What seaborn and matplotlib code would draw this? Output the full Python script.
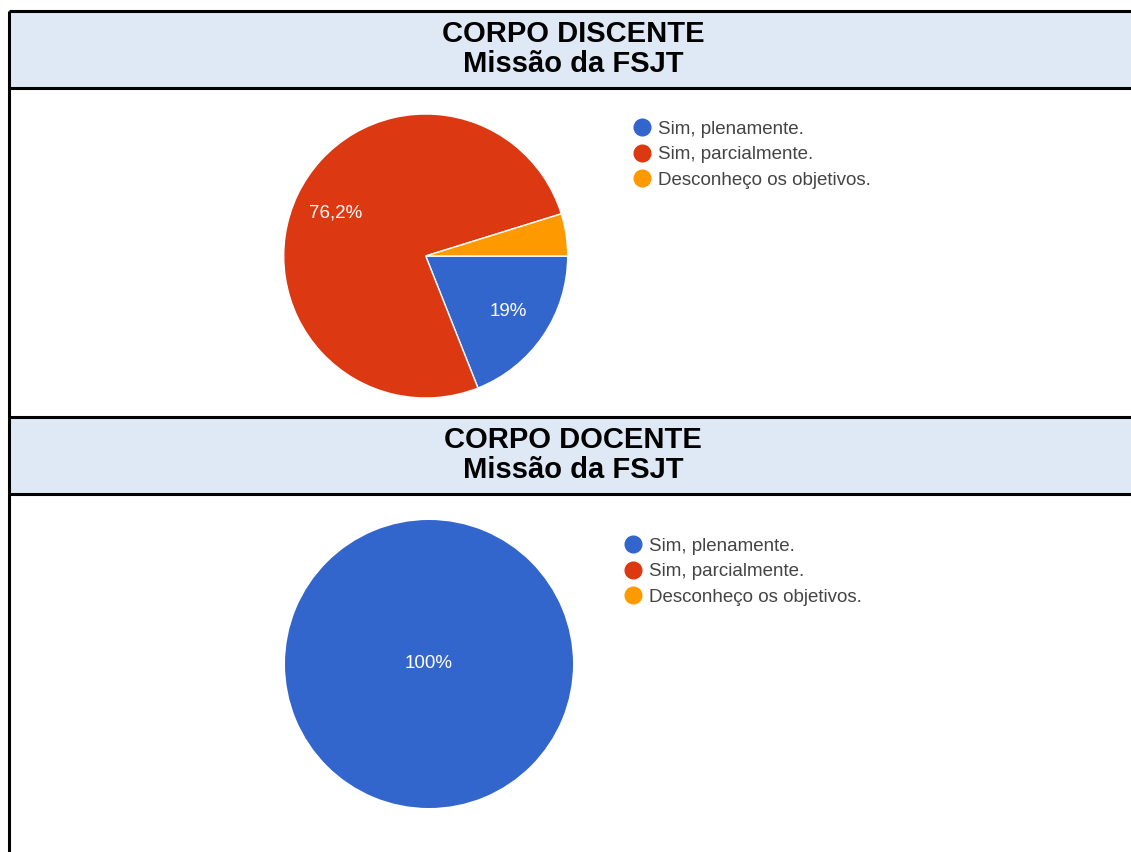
import numpy as np
import pandas as pd
import seaborn as sns
import matplotlib.pyplot as plt
from matplotlib.lines import Line2D

sns.set_theme(style="white")
plt.rcParams['font.family'] = ['Liberation Sans', 'DejaVu Sans']

# data
categories = ["Sim, plenamente.", "Sim, parcialmente.", "Desconheço os objetivos."]
discente = [19.0, 76.2, 4.8]
docente = [100.0, 0.0, 0.0]
headers = [("CORPO DISCENTE", "Missão da FSJT"), ("CORPO DOCENTE", "Missão da FSJT")]
colors = ["#3366CC", "#DC3912", "#FF9900"]

W, H = 1131, 852
fig = plt.figure(figsize=(W / 100, H / 100), dpi=100)

# overlay axes in pixel coords for the table
base = fig.add_axes([0, 0, 1, 1])
base.set_xlim(0, W)
base.set_ylim(H, 0)
base.axis("off")

hdr_boxes = [(11, 88), (417, 494)]
for (y0, y1), (t1, t2) in zip(hdr_boxes, headers):
    base.fill_between([9, W + 5], y0, y1, color="#DEE9F5", lw=0)
    base.plot([9, W + 5], [y0, y0], color="black", lw=2.2, solid_capstyle="butt")
    base.plot([9, W + 5], [y1, y1], color="black", lw=2.2, solid_capstyle="butt")
    mid = (y0 + y1) / 2
    base.text(573, mid - 15, t1, ha="center", va="center", fontsize=21, fontweight="bold", color="black")
    base.text(573, mid + 15, t2, ha="center", va="center", fontsize=21, fontweight="bold", color="black")
base.plot([9, 9], [11, H + 5], color="black", lw=2.2, solid_capstyle="butt")


def fmt(p):
    # google hides labels on tiny slices
    if p < 5:
        return ""
    if abs(p - round(p)) < 0.05:
        return f"{round(p):d}%"
    return f"{p:.1f}%".replace(".", ",")


def draw_pie(values, cx, cy, r, leg_x, leg_y):
    ax = fig.add_axes([(cx - r) / W, 1 - (cy + r) / H, 2 * r / W, 2 * r / H])
    df = pd.DataFrame({"cat": categories, "val": values, "col": colors})
    df = df[df["val"] > 0]
    single = len(df) == 1
    wedges, texts, autotexts = ax.pie(
        df["val"], colors=df["col"], startangle=0, counterclock=False,
        autopct=fmt, pctdistance=0 if single else 0.7,
        wedgeprops=dict(edgecolor="white", linewidth=1 if not single else 0),
        textprops=dict(color="white", fontsize=13.5))
    ax.set_xlim(-1, 1)
    ax.set_ylim(-1, 1)
    ax.set_aspect("equal")
    ax.axis("off")
    for w in wedges:
        w.set_clip_on(False)

    handles = [Line2D([0], [0], marker="o", linestyle="", markersize=12,
                      markerfacecolor=c, markeredgecolor=c) for c in colors]
    fig.legend(handles, categories, loc="upper left",
               bbox_to_anchor=(leg_x / W, 1 - leg_y / H),
               frameon=False, fontsize=13.5, labelcolor="#444444",
               handlelength=1.0, handletextpad=0.36, labelspacing=0.45,
               borderpad=0, borderaxespad=0)


draw_pie(discente, 425.7, 256, 142, 632.6, 120.5)
draw_pie(docente, 429, 664, 144, 623.6, 537.5)

fig.savefig("out.png", dpi=100)
